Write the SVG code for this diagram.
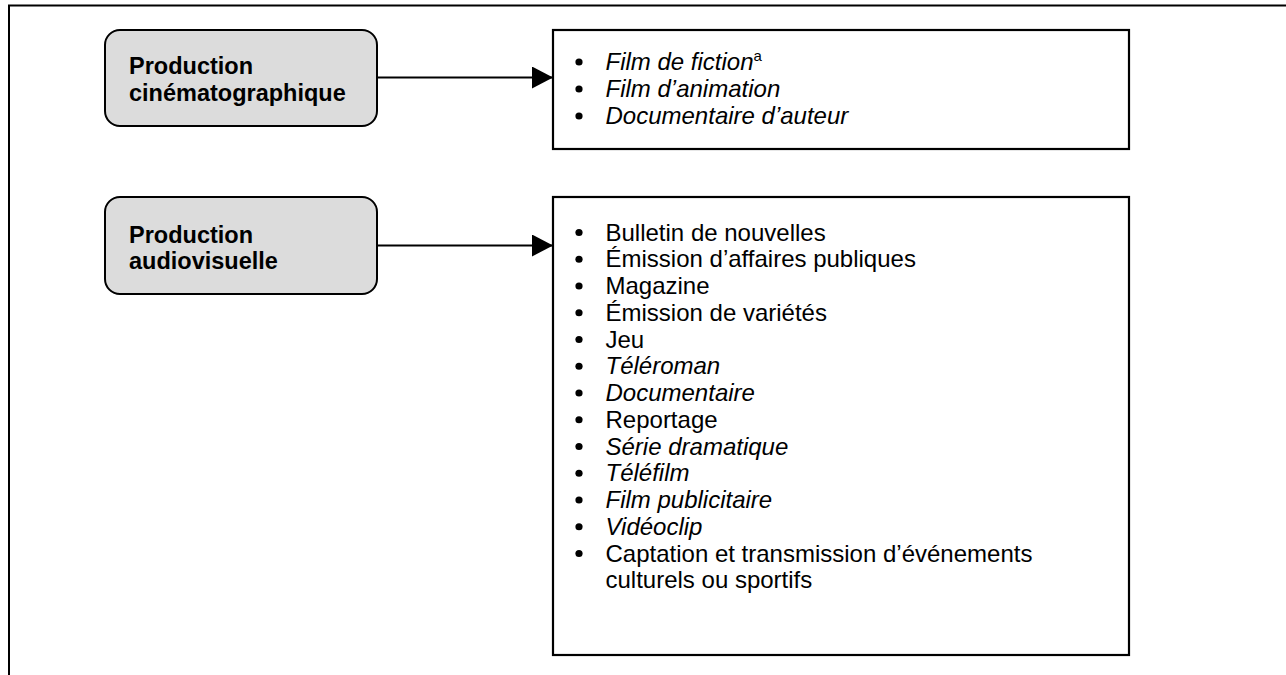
<svg xmlns="http://www.w3.org/2000/svg" width="1286" height="675" viewBox="0 0 1286 675">
  <style>
    .frame { fill: none; stroke: #000; stroke-width: 2; }
    .cat { fill: #dcdcdc; stroke: #000; stroke-width: 2; }
    .list { fill: #fff; stroke: #000; stroke-width: 2.2; }
    .edge { fill: none; stroke: #000; stroke-width: 2; }
    .lbl { font-family: "Liberation Sans", Arial, sans-serif; font-weight: bold; font-size: 23.5px; fill: #000; }
    .item { font-family: "Liberation Sans", Arial, sans-serif; font-size: 24px; fill: #000; }
    .it { font-style: italic; }
    .dot { fill: #000; }
  </style>
  <defs>
    <marker id="arrow" markerUnits="userSpaceOnUse" markerWidth="22" markerHeight="22" refX="21" refY="11" orient="auto">
      <path d="M0,0 L21,11 L0,22 Z" fill="#000"/>
    </marker>
  </defs>

  <rect width="1286" height="675" fill="#fff"/>
  <!-- page frame: left and top rules only -->
  <path class="frame" d="M9,675 V5.5 H1286"/>

  <g id="connectors">
    <line class="edge" x1="377" y1="77.5" x2="553" y2="77.5" marker-end="url(#arrow)"/>
    <line class="edge" x1="377" y1="245.5" x2="553" y2="245.5" marker-end="url(#arrow)"/>
  </g>

  <g id="prod-cinema">
    <rect class="cat" x="105" y="30" width="272" height="96" rx="15" ry="15"/>
    <text class="lbl" x="129" y="74">Production</text>
    <text class="lbl" x="129" y="100.5">cinématographique</text>
  </g>

  <g id="prod-audiovisuelle">
    <rect class="cat" x="105" y="197" width="272" height="97" rx="15" ry="15"/>
    <text class="lbl" x="129" y="242.5">Production</text>
    <text class="lbl" x="129" y="269">audiovisuelle</text>
  </g>

  <g id="liste-cinema">
    <rect class="list" x="553" y="30" width="576" height="119"/>
    <circle class="dot" cx="579" cy="62" r="3.6"/>
    <circle class="dot" cx="579" cy="89" r="3.6"/>
    <circle class="dot" cx="579" cy="116" r="3.6"/>
    <text class="item it" x="605.5" y="70">Film de fiction<tspan font-style="normal" font-size="15" dy="-9">a</tspan></text>
    <text class="item it" x="605.5" y="97">Film d’animation</text>
    <text class="item it" x="605.5" y="124">Documentaire d’auteur</text>
  </g>

  <g id="liste-audiovisuelle">
    <rect class="list" x="553" y="197" width="576" height="458"/>
    <g class="dot">
      <circle cx="579" cy="232.5" r="3.6"/>
      <circle cx="579" cy="259.25" r="3.6"/>
      <circle cx="579" cy="286" r="3.6"/>
      <circle cx="579" cy="312.75" r="3.6"/>
      <circle cx="579" cy="339.5" r="3.6"/>
      <circle cx="579" cy="366.25" r="3.6"/>
      <circle cx="579" cy="393" r="3.6"/>
      <circle cx="579" cy="419.75" r="3.6"/>
      <circle cx="579" cy="446.5" r="3.6"/>
      <circle cx="579" cy="473.25" r="3.6"/>
      <circle cx="579" cy="500" r="3.6"/>
      <circle cx="579" cy="526.75" r="3.6"/>
      <circle cx="579" cy="553.5" r="3.6"/>
    </g>
    <text class="item" x="605.5" y="240.5">Bulletin de nouvelles</text>
    <text class="item" x="605.5" y="267.25">Émission d’affaires publiques</text>
    <text class="item" x="605.5" y="294">Magazine</text>
    <text class="item" x="605.5" y="320.75">Émission de variétés</text>
    <text class="item" x="605.5" y="347.5">Jeu</text>
    <text class="item it" x="605.5" y="374.25">Téléroman</text>
    <text class="item it" x="605.5" y="401">Documentaire</text>
    <text class="item" x="605.5" y="427.75">Reportage</text>
    <text class="item it" x="605.5" y="454.5">Série dramatique</text>
    <text class="item it" x="605.5" y="481.25">Téléfilm</text>
    <text class="item it" x="605.5" y="508">Film publicitaire</text>
    <text class="item it" x="605.5" y="534.75">Vidéoclip</text>
    <text class="item" x="605.5" y="561.5">Captation et transmission d’événements</text>
    <text class="item" x="605.5" y="588.25">culturels ou sportifs</text>
  </g>
</svg>
